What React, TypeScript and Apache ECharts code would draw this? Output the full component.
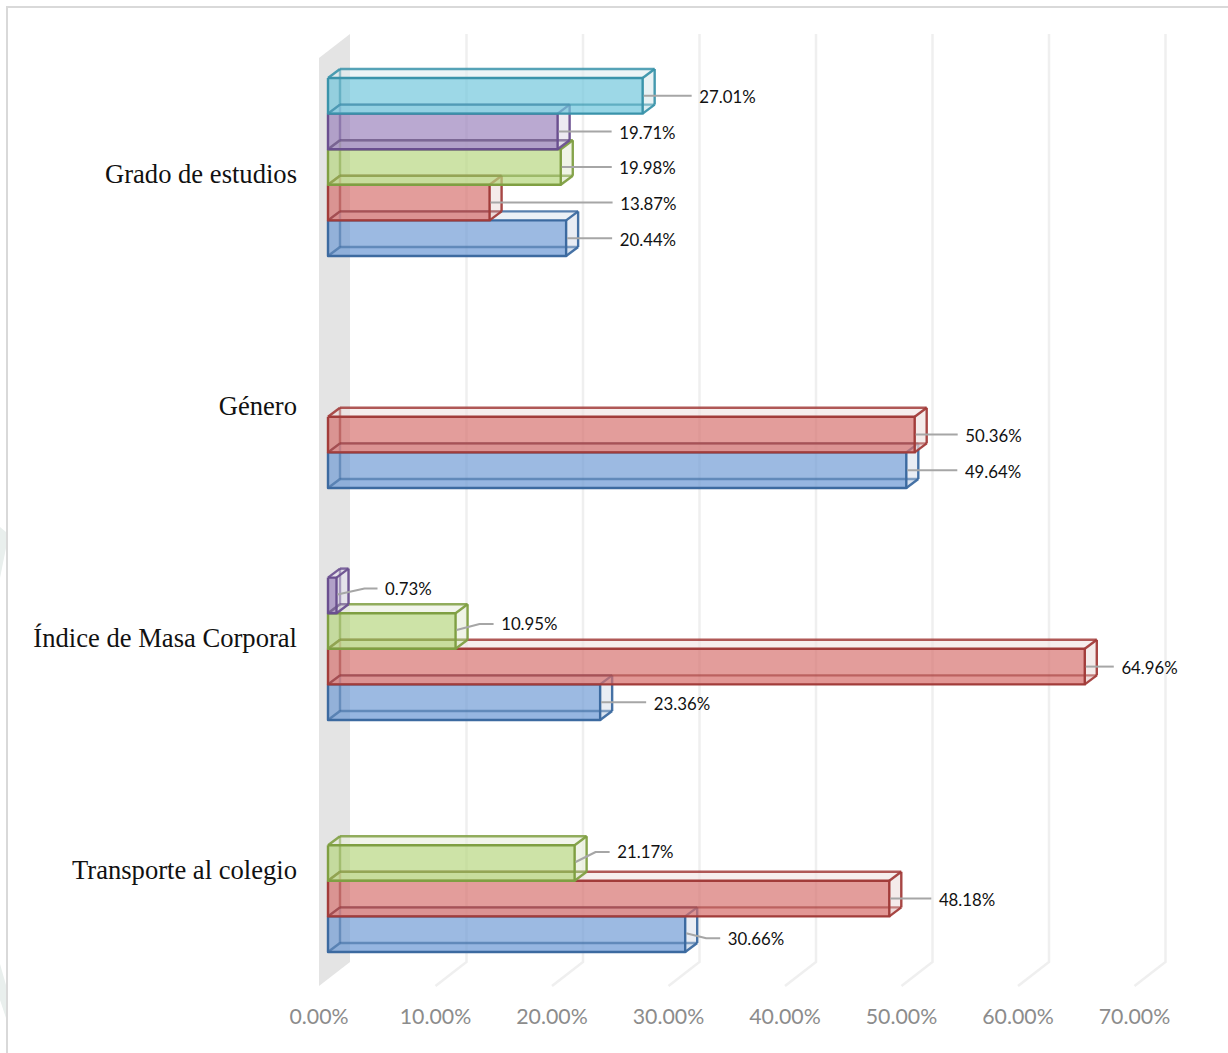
import React, { useEffect, useRef } from "react";
import * as echarts from "echarts";

const categories = ["Transporte al colegio", "Índice de Masa Corporal", "Género", "Grado de estudios"];
const blueValues = [30.66, 23.36, 49.64, 20.44];
const redValues = [48.18, 64.96, 50.36, 13.87];
const greenValues = [21.17, 10.95, null, 19.98];
const purpleValues = [null, 0.73, null, 19.71];
const tealValues = [null, null, null, 27.01];
const axisTicks = [0, 10, 20, 30, 40, 50, 60, 70];

const W = 1228;
const H = 1053;

// Oblique projection used for the wall and for each box
const WALL_DX = 31;
const WALL_DY = 24;
const BOX_DX = 12;
const BOX_DY = 9;
const BOX_INSET = 9;
const BAND_PAD_BOTTOM = 34 / 232;
const SLOT = 35.6 / 232;

// Leader line per bar: [elbow dx, elbow dy, end dx, end dy] from the bar's right face
const leaders: Record<string, number[]> = {
  "0-0": [21, 3, 35, 3],
  "1-0": [0, 0, 46, 0],
  "2-0": [0, 0, 51, 0],
  "3-0": [0, 0, 46, 0],
  "0-1": [0, 0, 42, 0],
  "1-1": [0, 0, 29, 0],
  "2-1": [0, 0, 43, 0],
  "3-1": [0, 0, 123, 0],
  "0-2": [21, -12, 35, -12],
  "1-2": [24, -8, 38, -8],
  "3-2": [0, 0, 51, 0],
  "1-3": [28, -8, 41, -8],
  "3-3": [0, 0, 54, 0],
  "3-4": [0, 0, 49, 0],
};

const palettes = [
  { edge: "#3c6aa0", fill: "#6d9ad4", top: "#dfe6f0" },
  { edge: "#a23c3a", fill: "#d66e6c", top: "#f0e2e1" },
  { edge: "#7f9f42", fill: "#b6d67e", top: "#eaefdd" },
  { edge: "#6a4f8f", fill: "#9a80bb", top: "#e6e1ec" },
  { edge: "#3a93aa", fill: "#6fc6db", top: "#dfecf0" },
];

function boxSeries(values: (number | null)[], slotIndex: number) {
  const pal = palettes[slotIndex];
  return {
    type: "custom",
    coordinateSystem: "cartesian2d",
    encode: { x: 0, y: 1 },
    clip: false,
    data: values
      .map((v, i) => [v, i])
      .filter((d) => d[0] !== null),
    renderItem: (_: unknown, api: any) => {
      const value = api.value(0);
      const cat = api.value(1);
      const band = api.size([0, 1])[1];
      const [xv, yc] = api.coord([value, cat]);
      const [x00] = api.coord([0, cat]);
      const bottom = yc + band / 2 - BAND_PAD_BOTTOM * band - slotIndex * SLOT * band;
      const top = bottom - SLOT * band;
      const x0 = x00 + BOX_INSET;
      const x1 = xv + BOX_INSET;
      const dx = BOX_DX;
      const dy = BOX_DY;
      const midY = (top + bottom) / 2;
      const [edx, edy, tdx, tdy] = leaders[`${cat}-${slotIndex}`];
      const poly = (points: number[][], fill: string, opacity: number) => ({
        type: "polygon",
        shape: { points },
        style: { fill, opacity, stroke: "none" },
      });
      const line = (points: number[][], opacity: number, lineWidth: number, stroke = pal.edge) => ({
        type: "polyline",
        shape: { points },
        style: { fill: "none", stroke, opacity, lineWidth, lineJoin: "round" },
      });
      const leaderPts = edx
        ? [[x1 + 1, midY - 1], [x1 + edx, midY + edy + 1], [x1 + tdx, midY + tdy + 1]]
        : [[x1 + 1, midY], [x1 + tdx, midY + tdy]];
      return {
        type: "group",
        children: [
          poly([[x0 + dx, top - dy], [x1 + dx, top - dy], [x1, top], [x0, top]], pal.top, 0.6),
          poly([[x1, top], [x1 + dx, top - dy], [x1 + dx, bottom - dy], [x1, bottom]], pal.top, 0.7),
          poly([[x0, bottom], [x1, bottom], [x1 + dx, bottom - dy], [x0 + dx, bottom - dy]], pal.fill, 0.12),
          poly([[x0, top], [x1, top], [x1, bottom], [x0, bottom]], pal.fill, 0.68),
          // Hidden edges show through the translucent front face
          line([[x0 + dx, bottom - dy], [x0 + dx, top - dy]], 0.5, 2.4),
          line([[x0 + dx, bottom - dy], [x1 + dx, bottom - dy]], 0.6, 2.4),
          line([[x0 + dx, top - dy], [x1 + dx, top - dy]], 0.85, 2.4),
          line([[x1 + dx, top - dy], [x1 + dx, bottom - dy]], 0.95, 2.4),
          line([[x0, top], [x0 + dx, top - dy]], 0.9, 2.4),
          line([[x1, top], [x1 + dx, top - dy]], 0.95, 2.4),
          line([[x0, bottom], [x0 + dx, bottom - dy]], 0.65, 2.4),
          line([[x1, bottom], [x1 + dx, bottom - dy]], 0.95, 2.4),
          line([[x0, top], [x1, top], [x1, bottom], [x0, bottom], [x0, top]], 1, 2.4),
          line(leaderPts, 1, 2, "#a6a6a6"),
          {
            type: "text",
            style: {
              x: x1 + tdx + 7.6,
              y: midY + tdy + 0.8,
              text: `${value.toFixed(2)}%`,
              fontFamily: "Lato",
              fontSize: 16.8,
              fill: "#111111",
              verticalAlign: "middle",
              align: "left",
            },
          },
        ],
      };
    },
  };
}

// Side wall, back-plane gridlines and their runs across the floor
const wallSeries = {
  type: "custom",
  coordinateSystem: "cartesian2d",
  encode: { x: 0, y: 1 },
  clip: false,
  silent: true,
  z: 0,
  data: axisTicks.map((t) => [t, 0]),
  renderItem: (params: any, api: any) => {
    const value = api.value(0);
    const { y, height } = params.coordSys;
    const [x] = api.coord([value, 0]);
    const bottom = y + height;
    if (value === 0) {
      return {
        type: "polygon",
        shape: {
          points: [[x, y], [x + WALL_DX, y - WALL_DY], [x + WALL_DX, bottom - WALL_DY], [x, bottom]],
        },
        style: { fill: "#e4e4e4", stroke: "none" },
      };
    }
    return {
      type: "polyline",
      shape: { points: [[x + WALL_DX, y - WALL_DY], [x + WALL_DX, bottom - WALL_DY], [x, bottom]] },
      style: { fill: "none", stroke: "#efefef", lineWidth: 2.5 },
    };
  },
};

export default function App() {
  const ref = useRef<HTMLDivElement>(null);
  useEffect(() => {
    document.body.style.margin = "0";
    const chart = echarts.init(ref.current!, undefined, { renderer: "svg" });
    chart.setOption({
      animation: false,
      backgroundColor: "#ffffff",
      grid: { left: 319, top: 58, width: 815.5, height: 928, containLabel: false },
      xAxis: {
        type: "value",
        min: 0,
        max: 70,
        interval: 10,
        axisLine: { show: false },
        axisTick: { show: false },
        splitLine: { show: false },
        axisLabel: {
          formatter: (v: number) => `${v.toFixed(2)}%`,
          color: "#8c8c8c",
          fontFamily: "Lato",
          fontSize: 21.3,
          margin: 19,
        },
      },
      yAxis: {
        type: "category",
        data: categories,
        axisLine: { show: false },
        axisTick: { show: false },
        splitLine: { show: false },
        axisLabel: {
          color: "#111111",
          fontFamily: "Liberation Serif",
          fontSize: 26.6,
          margin: 22,
          align: "right",
          padding: [3, 0, 0, 0],
        },
      },
      graphic: [
        // Faint shapes left of the frame
        {
          type: "polygon",
          silent: true,
          shape: { points: [[0, 527], [6, 532], [6, 548], [0, 578]] },
          style: { fill: "#e9efed" },
        },
        {
          type: "polygon",
          silent: true,
          shape: { points: [[0, 964], [6, 985], [6, 1018], [0, 1000]] },
          style: { fill: "#e9efed" },
        },
        {
          type: "polyline",
          silent: true,
          shape: { points: [[W, 7], [7, 7], [7, H]] },
          style: { fill: "none", stroke: "#d9d9d9", lineWidth: 2 },
        },
      ],
      series: [
        wallSeries,
        boxSeries(blueValues, 0),
        boxSeries(redValues, 1),
        boxSeries(greenValues, 2),
        boxSeries(purpleValues, 3),
        boxSeries(tealValues, 4),
      ],
    });
    return () => chart.dispose();
  }, []);
  return <div ref={ref} style={{ width: W, height: H }} />;
}
